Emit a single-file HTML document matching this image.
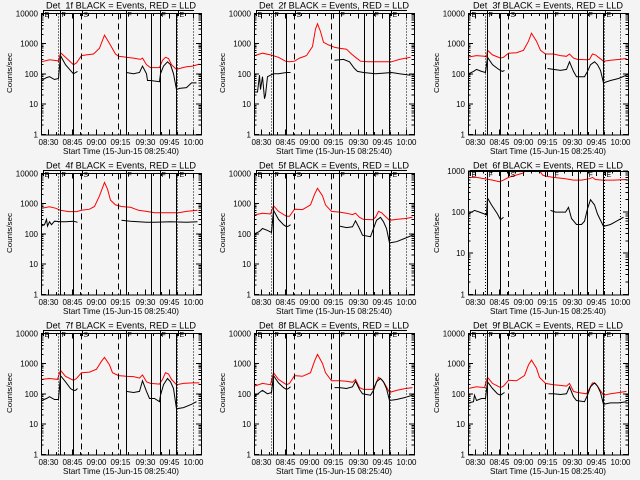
<!DOCTYPE html>
<html><head><meta charset="utf-8"><style>
body{margin:0;background:#f4f4f4}
svg{display:block;font-family:"Liberation Sans",sans-serif}
line,rect{shape-rendering:crispEdges}
</style></head><body>
<svg id="fig" width="640" height="480" viewBox="0 0 640 480" xmlns="http://www.w3.org/2000/svg">
<rect width="640" height="480" fill="#f4f4f4"/>
</svg>
<script>
// Time in minutes since 08:25:40; null = gap
const detNames = ["Det_1f","Det_2f","Det_3f","Det_4f","Det_5f","Det_6f","Det_7f","Det_8f","Det_9f"];
const xTickLabels = ["08:30","08:45","09:00","09:15","09:30","09:45","10:00"];
const xTickTimes = [4.33,19.33,34.33,49.33,64.33,79.33,94.33];
const solidLineTimes = [11.5,19.7,53,68.1,73.9,83.6];
const dashedLineTimes = [24.6,47.6];
const dottedLineTimes = [10.6,84.4,94.4];
const stateLabels = ["E","F","S","F","F","E"];
const stateTimes = [0,11.5,25.5,53,73.9,85];
const red1=[[0,250],[5,290],[10,270],[10.7,260],[11.5,500],[15,350],[19.6,200],[22,230],[24.6,400],[28,420],[32,450],[36,700],[39.3,1900],[42,1000],[46,450],[47.6,380],[53,350],[57,330],[61.5,300],[63,330],[65,200],[68,160],[73,160],[75,280],[77,350],[79,320],[81,200],[83.6,140],[86,150],[90,170],[94,180],[98,210]];
const blk1=[[0,60],[3,75],[5,80],[8,65],[10.7,70],[11.5,400],[15,200],[18,130],[19.6,100],[21,110],[22.5,120],null,[53,110],[57,100],[61,110],[63,180],[65,100],[66,60],[68,60],[73,55],[74,100],[76,180],[78,250],[80,200],[82,100],[83.6,30],[86,33],[90,35],[93,50],[96,50]];
const red2=[[0,400],[5,480],[10,420],[15,350],[19,260],[22,250],[24.6,260],[28,330],[32,400],[36,800],[38,3000],[39.3,4500],[41,2500],[43,1100],[46,900],[50,750],[53,700],[57,650],[60,450],[63,350],[66,260],[70,250],[80,250],[85,250],[90,300],[97,350]];
const blk2=[[0,25],[2,25],[3,90],[4,30],[5,80],[6,15],[7,20],[8,80],[10,90],[11.5,100],[15,100],[20,110],[22.5,110],null,[50,280],[55,300],[59,250],[62,150],[64,120],[68,110],[75,100],[85,110],[90,100],[97,90]];
const red3=[[0,360],[5,400],[10,380],[11,360],[11.5,600],[15,420],[19.6,330],[22,350],[24.6,480],[30,500],[34,600],[37,1200],[39.3,2200],[42,1200],[45,600],[47.6,450],[53,450],[57,400],[61,380],[63,450],[65,330],[68,300],[73,290],[75,300],[77,450],[79,420],[81,350],[83.6,260],[88,280],[94,300],[98,320]];
const blk3=[[0,100],[3,120],[5,140],[8,120],[10.7,110],[11.5,350],[15,200],[18,150],[19.6,130],[21,120],[22.5,130],null,[49,150],[53,140],[57,130],[61,140],[63,250],[65,120],[67,80],[72,80],[74,120],[76,200],[78,250],[80,200],[82,130],[83.6,50],[88,60],[93,70],[98,90]];
const red4=[[0,700],[5,780],[9,700],[12,600],[17,540],[22,540],[24.6,600],[30,650],[33,800],[36,1800],[39.3,5000],[41,3000],[43,1300],[46,900],[50,800],[55,750],[60,600],[65,550],[70,500],[80,500],[85,500],[90,550],[97,600]];
const blk4=[[0,180],[2,200],[3,300],[4,180],[5,250],[6,200],[8,260],[11.5,250],[15,250],[20,260],[22.5,240],null,[50,280],[55,260],[60,250],[65,240],[70,240],[80,250],[90,240],[97,250]];
const red5=[[0,420],[5,480],[10,450],[11.5,850],[15,550],[19.6,380],[22,380],[24.6,650],[30,630],[35,900],[37,2000],[39.3,3200],[42,1800],[44,900],[46,700],[47.6,550],[53,520],[57,480],[61,430],[63,480],[65,350],[68,300],[73,290],[75,350],[77,550],[79,500],[81,400],[83.6,280],[88,300],[94,320],[98,350]];
const blk5=[[0,100],[3,120],[5,150],[8,130],[10.7,110],[11.5,600],[15,300],[18,200],[19.6,170],[21,180],[22.5,200],null,[53,180],[57,160],[61,170],[63,270],[65,150],[67,90],[72,80],[74,150],[76,280],[78,350],[80,250],[82,150],[83.6,50],[88,55],[93,70],[98,90]];
const red6=[[0,700],[5,700],[10,650],[15,600],[19,550],[22,600],[24.6,700],[30,800],[34,900],[36,1200],[39.3,2000],[43,1200],[46,800],[47.6,750],[53,700],[60,650],[65,600],[70,600],[75,650],[77,700],[79,620],[83,600],[90,600],[98,620]];
const blk6=[[0,90],[4,110],[7,100],[10,90],[11,85],[11.5,220],[14,150],[18,90],[20,65],[22,75],null,[51,110],[54,100],[60,100],[62,130],[64,70],[67,50],[70,50],[72,60],[74,120],[76,200],[78,150],[80,90],[83.6,45],[88,50],[92,60],[96,75]];
const red7=[[0,300],[5,320],[10,300],[11.5,600],[15,380],[19.6,280],[22,320],[24.6,500],[30,520],[34,650],[37,1200],[39.3,1600],[42,900],[44,500],[47.6,400],[53,380],[57,370],[61,330],[63,420],[65,250],[68,220],[73,210],[75,300],[77,500],[79,450],[81,300],[83.6,200],[88,220],[94,230],[98,230]];
const blk7=[[0,60],[3,70],[5,80],[8,65],[10.7,65],[11.5,400],[15,250],[18,150],[19.6,130],[21,130],[22.5,150],null,[53,120],[57,110],[61,120],[63,270],[65,120],[67,70],[70,70],[73,55],[74,90],[76,200],[78,320],[80,250],[82,150],[83.6,32],[88,35],[93,45],[96,55]];
const red8=[[0,180],[5,220],[10,200],[11.5,500],[15,300],[19.6,200],[22,220],[24.6,400],[30,380],[35,500],[37,1200],[39.3,2000],[42,1000],[44,500],[47.6,270],[53,270],[57,260],[61,240],[63,300],[65,160],[68,140],[73,140],[75,200],[77,350],[79,300],[81,220],[83.6,110],[88,130],[94,150],[98,160]];
const blk8=[[0,80],[3,110],[5,130],[8,100],[10.7,110],[11.5,400],[15,230],[18,160],[19.6,140],[21,150],[22.5,170],null,[50,160],[53,160],[57,150],[61,170],[63,260],[65,140],[67,100],[72,90],[74,130],[76,250],[78,320],[80,250],[82,150],[83.6,60],[88,65],[93,75],[98,90]];
const red9=[[0,150],[5,170],[10,160],[11.5,350],[15,220],[19.6,160],[22,180],[24.6,280],[30,270],[35,400],[37,900],[39.3,1300],[42,700],[44,350],[47.6,220],[53,200],[57,190],[61,180],[63,220],[65,120],[68,110],[73,100],[75,150],[77,230],[79,220],[81,160],[83.6,90],[88,100],[94,110],[98,120]];
const blk9=[[0,50],[3,55],[4,90],[5,60],[8,70],[10.7,70],[11.5,250],[15,150],[18,100],[19.6,90],[21,100],[22.5,110],null,[50,100],[53,100],[57,95],[61,100],[63,170],[65,80],[67,60],[72,55],[74,90],[76,170],[78,230],[80,180],[82,110],[83.6,45],[88,50],[93,50],[98,55]];
const yDecades4 = [1,10,100,1000,10000];
const yDecades3 = [1,10,100,1000];

const reds=[red1,red2,red3,red4,red5,red6,red7,red8,red9];
const blks=[blk1,blk2,blk3,blk4,blk5,blk6,blk7,blk8,blk9];
const NS="http://www.w3.org/2000/svg";
const fig=document.getElementById('fig');
function mk(tag,attrs,parent){const e=document.createElementNS(NS,tag);for(const k in attrs)e.setAttribute(k,attrs[k]);parent.appendChild(e);return e;}
const X0=41,X1=201,Y0=13.3,Y1=134.3,TMAX=99.4;
for(let p=0;p<9;p++){
  const col=p%3,row=Math.floor(p/3);
  const g=mk('g',{transform:`translate(${Math.round(col*213.33)},${row*160})`},fig);
  
  
  const decs=(p===5)?yDecades3:yDecades4;
  const ymax=decs[decs.length-1];
  const yTop=(p===5)?11:Y0;
  const xs=t=>Math.round(X0+(t/TMAX)*(X1-X0))+0.5;
  const ys=v=>{let lv=Math.log10(Math.max(v,1e-3));return Y1-(lv/Math.log10(ymax))*(Y1-yTop);};
  const cid='c'+p;
  const cp=mk('clipPath',{id:cid},g);mk('rect',{x:X0,y:yTop,width:X1-X0,height:Y1-yTop},cp);
  function path(data,color,name){
    let d='',pen=false;
    for(const pt of data){if(pt===null){pen=false;continue;}
      d+=(pen?'L':'M')+xs(pt[0]).toFixed(1)+' '+ys(pt[1]).toFixed(1)+' ';pen=true;}
    const e=mk('path',{d:d,fill:'none',stroke:color,'stroke-width':1,'clip-path':`url(#${cid})`},g);
    
    
  }
  path(reds[p],'#ff0000','lld-series');
  path(blks[p],'#000000','events-series');
  solidLineTimes.forEach(t=>{const l=mk('line',{x1:xs(t),x2:xs(t),y1:yTop,y2:Y1,stroke:'#000','stroke-width':1},g);
    });
  dashedLineTimes.forEach(t=>{const l=mk('line',{x1:xs(t),x2:xs(t),y1:yTop,y2:Y1,stroke:'#000','stroke-width':1,'stroke-dasharray':'6 4'},g);
    });
  dottedLineTimes.forEach(t=>{const l=mk('line',{x1:xs(t),x2:xs(t),y1:yTop,y2:Y1,stroke:'#000','stroke-width':1,'stroke-dasharray':'1 2'},g);
    });
  const fr=mk('rect',{x:X0+0.5,y:Math.round(yTop)+0.5,width:X1-X0,height:Y1-Math.round(yTop),fill:'none',stroke:'#000','stroke-width':1},g);
  
  decs.forEach((v,i)=>{const y=ys(v);
    mk('line',{x1:X0,x2:X0+5,y1:y,y2:y,stroke:'#000'},g);mk('line',{x1:X1,x2:X1-5,y1:y,y2:y,stroke:'#000'},g);
    const tx=mk('text',{x:X0-3,y:y+3,'font-size':8,'text-anchor':'end'},g);tx.textContent=String(v);
    
    if(i<decs.length-1)for(let m=2;m<10;m++){const ym=ys(v*m);
      mk('line',{x1:X0,x2:X0+2.5,y1:ym,y2:ym,stroke:'#000'},g);mk('line',{x1:X1,x2:X1-2.5,y1:ym,y2:ym,stroke:'#000'},g);}
  });
  xTickTimes.forEach((t,i)=>{const x=xs(t);
    mk('line',{x1:x,x2:x,y1:Y1,y2:Y1-5,stroke:'#000'},g);mk('line',{x1:x,x2:x,y1:yTop,y2:yTop+5,stroke:'#000'},g);
    const tx=mk('text',{x:x,y:145,'font-size':8,'text-anchor':'middle',textLength:20,lengthAdjust:'spacingAndGlyphs'},g);tx.textContent=xTickLabels[i];
    
    for(let m=1;m<3;m++){const xm=xs(t+5*m);if(xm<X1){mk('line',{x1:xm,x2:xm,y1:Y1,y2:Y1-2.5,stroke:'#000'},g);mk('line',{x1:xm,x2:xm,y1:yTop,y2:yTop+2.5,stroke:'#000'},g);}}
  });
  mk('line',{x1:43,x2:194,y1:10.5,y2:10.5,stroke:'#000','stroke-width':1},g);
  stateTimes.forEach((t,i)=>{const x=Math.max(xs(t),43.5);
    mk('line',{x1:x,x2:x,y1:10,y2:16,stroke:'#000','stroke-width':1},g);
    const tx=mk('text',{x:x+1,y:17,'font-size':7},g);tx.textContent=stateLabels[i];
    });
  const ti=mk('text',{x:121,y:8.5,'font-size':9,'text-anchor':'middle',textLength:150,lengthAdjust:'spacingAndGlyphs'},g);
  ti.textContent=detNames[p]+' BLACK = Events, RED = LLD';
  
  const xl=mk('text',{x:121,y:154,'font-size':8.5,'text-anchor':'middle',textLength:116,lengthAdjust:'spacingAndGlyphs'},g);
  xl.textContent='Start Time (15-Jun-15 08:25:40)';
  
  const yl=mk('text',{x:0,y:0,'font-size':7.5,'text-anchor':'middle',transform:'translate(12,73) rotate(-90)',textLength:40,lengthAdjust:'spacingAndGlyphs'},g);
  yl.textContent='Counts/sec';
  
}
</script>
</body></html>
